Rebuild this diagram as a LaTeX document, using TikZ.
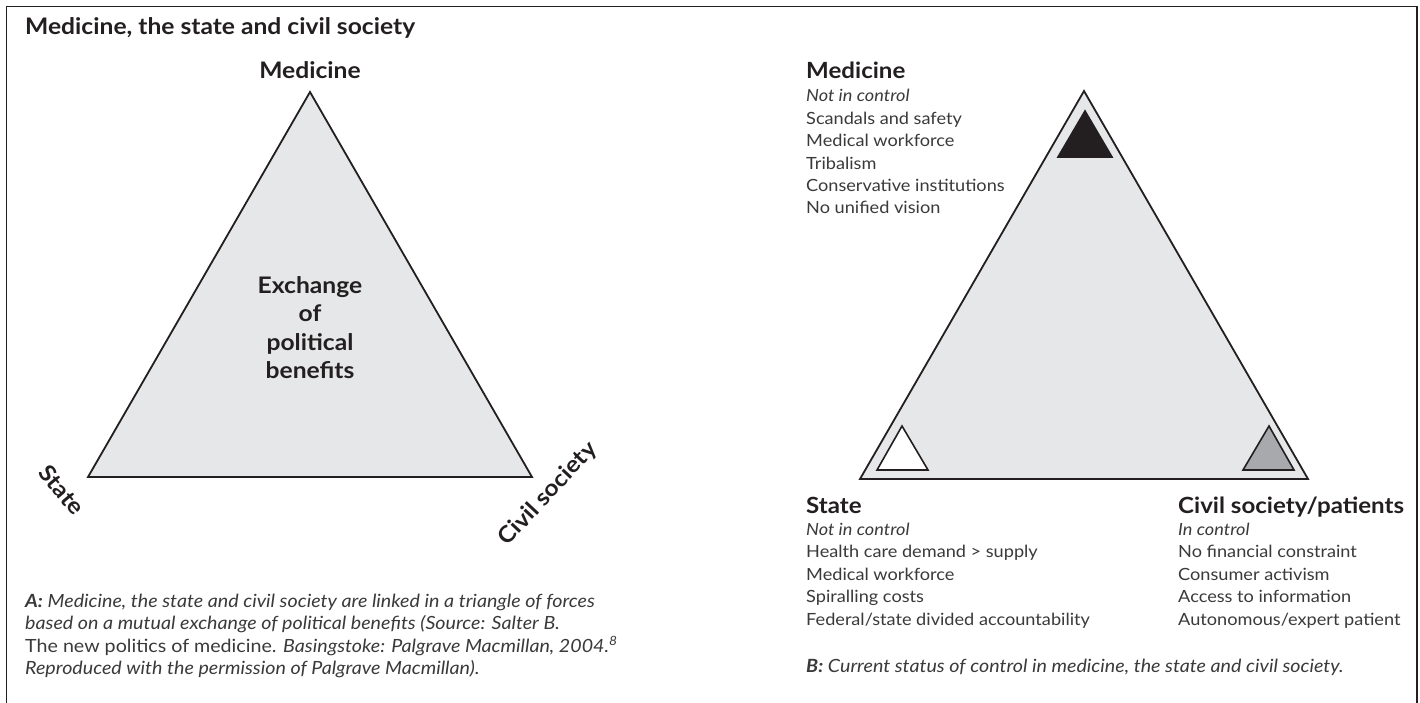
\documentclass[tikz,border=0pt]{standalone}
\usepackage{fontspec}
\setmainfont{Lato}[FakeStretch=1.08]
\definecolor{ink}{HTML}{231F20}
\definecolor{bodytext}{HTML}{3A3A3A}
\definecolor{panel}{HTML}{E6E7E8}
\definecolor{midgray}{HTML}{A7A9AC}
\tikzset{
  frameline/.style={line width=1.6pt, ink},
  bigtri/.style={draw=ink, line width=1.8pt, line join=miter, fill=panel},
  marktri/.style={draw=ink, line width=1.6pt, line join=miter},
  headA/.style={font=\bfseries\fontsize{22.8}{26}\selectfont, text=ink, inner sep=0pt},
  headB/.style={font=\bfseries\fontsize{22.3}{26}\selectfont, text=ink, inner sep=0pt, anchor=base west},
  listtext/.style={font=\fontsize{16.8}{21}\selectfont, text=bodytext, inner sep=0pt, anchor=base west},
  ctltext/.style={listtext, font=\itshape\fontsize{16.8}{21}\selectfont},
  captext/.style={font=\itshape\fontsize{18.2}{22}\selectfont, text=bodytext, inner sep=0pt, anchor=base west},
}
\begin{document}
\begin{tikzpicture}[x=1pt,y=-1pt]
\useasboundingbox (0,0) rectangle (1420,703);
\fill[white] (0,0) rectangle (1420,703);
% outer frame, open at the bottom
\draw[frameline] (6.5,703) -- (6.5,6.5) -- (1417,6.5) -- (1417,703);

% title
\node[headA, anchor=base west] (title) at (25,35) {Medicine, the state and civil society};

% ---------- panel A ----------
\coordinate (aTop) at (310,92);
\coordinate (aLeft) at (88,477);
\coordinate (aRight) at (532,477);
\draw[bigtri] (aTop) -- (aLeft) -- (aRight) -- cycle;

\node[headA, anchor=base] (medA) at (310,79) {Medicine};
\node[headA, rotate=-50] (stateA) at (62,490) {State};
\node[headA, rotate=47] (civilA) at (548,494) {Civil society};

\foreach \w [count=\i from 0] in {Exchange, of, political, benefits}
  \node[headA, anchor=base] (exch\i) at (310,293+28.5*\i) {\w};

\node[captext] (capA0) at (25,607) {\textbf{A:} Medicine, the state and civil society are linked in a triangle of forces};
\node[captext] (capA1) at (25,629.5) {based on a mutual exchange of political benefits (Source: Salter B.};
\node[captext] (capA2) at (25,652) {\upshape The new politics of medicine. \itshape Basingstoke: Palgrave Macmillan, 2004.\textsuperscript{8}};
\node[captext] (capA3) at (25,674.5) {Reproduced with the permission of Palgrave Macmillan).};

% ---------- panel B ----------
\coordinate (bTop) at (1084,91);
\coordinate (bLeft) at (860,479);
\coordinate (bRight) at (1308,479);
\draw[bigtri] (bTop) -- (bLeft) -- (bRight) -- cycle;

% corner markers: medicine (black), state (white), civil society (grey)
\draw[marktri, fill=ink] (1085,111) -- (1058,157) -- (1112,157) -- cycle;
\draw[marktri, fill=white] (902,426) -- (877,470) -- (928,470) -- cycle;
\draw[marktri, fill=midgray] (1269,426) -- (1243,470) -- (1294,470) -- cycle;

% medicine block
\node[headB] (medB) at (806,79) {Medicine};
\node[ctltext] (medCtl) at (806,102) {Not in control};
\foreach \t [count=\i from 1] in {Scandals and safety, Medical workforce, Tribalism, Conservative institutions, No unified vision}
  \node[listtext] (medItem\i) at (806,102+22.4*\i) {\t};

% state block
\node[headB] (stateB) at (806,513) {State};
\node[ctltext] (stateCtl) at (806,535) {Not in control};
\foreach \t [count=\i from 1] in {Health care demand > supply, Medical workforce, Spiralling costs, Federal/state divided accountability}
  \node[listtext] (stateItem\i) at (806,535+22.5*\i) {\t};

% civil society block
\node[headB] (civB) at (1178,513) {Civil society/patients};
\node[ctltext] (civCtl) at (1178,535) {In control};
\foreach \t [count=\i from 1] in {No financial constraint, Consumer activism, Access to information, Autonomous/expert patient}
  \node[listtext] (civItem\i) at (1178,535+22.5*\i) {\t};

\node[captext] (capB) at (806,672) {\textbf{B:} Current status of control in medicine, the state and civil society.};
\end{tikzpicture}
\end{document}
